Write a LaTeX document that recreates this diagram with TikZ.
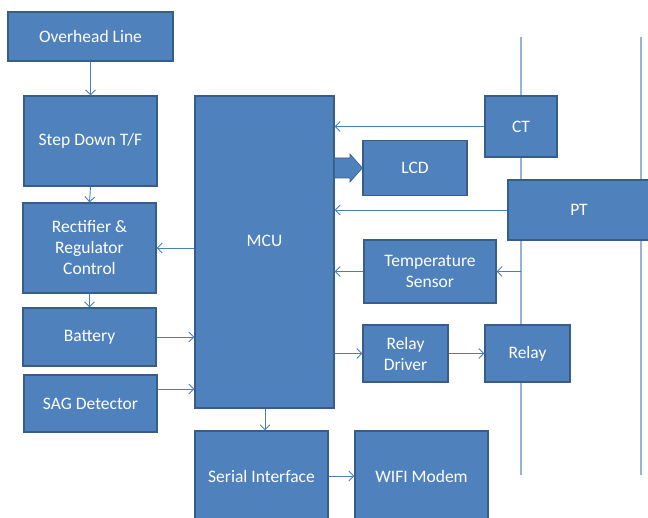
\documentclass[tikz,border=0pt]{standalone}
\usepackage{fontspec}
\setmainfont{Carlito}
\usetikzlibrary{arrows.meta}
\definecolor{boxfill}{HTML}{4F81BD}
\definecolor{boxline}{HTML}{385D8A}
\definecolor{arrcol}{HTML}{4A7EBB}
\definecolor{buscol}{HTML}{95B3D7}
\tikzset{
  blk/.style={draw=boxline, fill=boxfill, line width=1.2pt, text=white, align=center,
              font=\fontsize{17.5}{21}\selectfont, inner sep=0pt},
  arr/.style={draw=arrcol, line width=0.9pt, -{Straight Barb[length=5pt,width=10pt]}},
  bus/.style={draw=buscol, line width=1.8pt}
}
\begin{document}
\begin{tikzpicture}[x=1pt,y=-1pt]
\useasboundingbox (0,0) rectangle (648,518);
% bus lines
\coordinate (l1t) at (521,37);
\coordinate (l1b) at (521,475);
\coordinate (l2t) at (641,37);
\coordinate (l2b) at (641,475);
\draw[bus] (l1t) -- (l1b);
\draw[bus] (l2t) -- (l2b);
% boxes
\node[blk, minimum width=165pt, minimum height=49pt] (over) at (90.5,36.5) {Overhead Line};
\node[blk, minimum width=133pt, minimum height=90pt] (step) at (90.5,141) {Step Down T/F};
\node[blk, minimum width=133pt, minimum height=90pt] (rect) at (89.5,248) {Rectifier \&\\Regulator\\Control};
\node[blk, minimum width=133pt, minimum height=58pt] (batt) at (89.5,337) {Battery};
\node[blk, minimum width=133pt, minimum height=57pt] (sag) at (90.5,403.5) {SAG Detector};
\node[blk, minimum width=139pt, minimum height=312pt] (mcu) at (264.5,252) {};
\node[text=white, font=\fontsize{17.5}{21}\selectfont] (mcut) at (264.5,241) {MCU};
\node[blk, minimum width=72pt, minimum height=61pt] (ct) at (521,126.5) {CT};
\node[blk, minimum width=104pt, minimum height=55pt] (lcd) at (415,168) {LCD};
\node[blk, minimum width=142pt, minimum height=60pt] (pt) at (579,210) {PT};
\node[blk, minimum width=132pt, minimum height=63pt] (temp) at (430,271.5) {Temperature\\Sensor};
\node[blk, minimum width=85pt, minimum height=57pt] (rdrv) at (405.5,353.5) {Relay\\Driver};
\node[blk, minimum width=85pt, minimum height=57pt] (relay) at (527.5,353.5) {Relay};
\node[blk, minimum width=133pt, minimum height=90pt] (serial) at (261.5,476) {Serial Interface};
\node[blk, minimum width=133pt, minimum height=90pt] (wifi) at (421.5,476) {WIFI Modem};
% block arrow MCU -> LCD
\fill[boxfill, draw=boxline, line width=0.6pt]
  (mcu.east |- 0,158) -- (350,158) -- (350,154) -- (lcd.west) -- (350,182) -- (350,178) -- (mcu.east |- 0,178) -- cycle;
% arrows
\draw[arr] (over.south) -- (step.north);
\draw[arr] (step.south) -- (rect.north);
\draw[arr] (rect.south) -- (batt.north);
\draw[arr] (mcu.west |- rect.east) -- (rect.east);
\draw[arr] (batt.east) -- (mcu.west |- batt.east);
\draw[arr] (sag.east |- 0,389) -- (mcu.west |- 0,389);
\draw[arr] (ct.west) -- (mcu.east |- ct.west);
\draw[arr] (pt.west) -- (mcu.east |- pt.west);
\draw[arr] (temp.west) -- (mcu.east |- temp.west);
\coordinate (tap) at (l1t |- temp.east);
\draw[arr] (tap) -- (temp.east);
\draw[arr] (mcu.east |- rdrv.west) -- (rdrv.west);
\draw[arr] (rdrv.east) -- (relay.west);
\draw[arr] (mcu.south -| 265,0) -- (serial.north -| 265,0);
\draw[arr] (serial.east) -- (wifi.west);
\end{tikzpicture}
\end{document}
